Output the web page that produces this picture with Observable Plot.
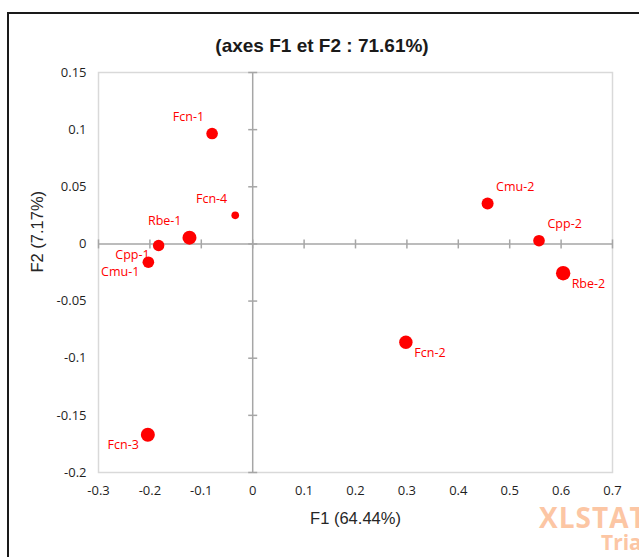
<!DOCTYPE html>
<html>
<head>
<meta charset="utf-8">
<script src="https://cdn.jsdelivr.net/npm/d3@7"></script>
<script src="https://cdn.jsdelivr.net/npm/@observablehq/plot@0.6"></script>
<style>
  html, body { margin: 0; padding: 0; background: #fff; overflow: hidden; }
  #wrap { position: relative; width: 639px; height: 557px; overflow: hidden; }
  #border { position: absolute; left: 7px; top: 12px; width: 680px; height: 620px; border: 2.5px solid #1a1a1a; box-sizing: border-box; pointer-events: none; }
  .wm { position: absolute; font-family: "Open Sans", sans-serif; font-weight: 700; color: #fcc6a4; white-space: nowrap; line-height: 1; }
</style>
</head>
<body>
<div id="wrap">
  <div id="chart"></div>
  <div id="border"></div>
  <div class="wm" style="left:539px; top:503px; font-size:28px; letter-spacing:1px;">XLSTAT</div>
  <div class="wm" style="left:601px; top:532px; font-size:21px;">Trial</div>
</div>
<script>
// Observations (names), coordinates on F1 and F2, relative point weight
const names  = ["Fcn-1", "Fcn-2", "Fcn-3", "Fcn-4", "Rbe-1", "Rbe-2", "Cpp-1", "Cpp-2", "Cmu-1", "Cmu-2"];
const f1     = [-0.079, 0.298, -0.204, -0.034, -0.123, 0.604, -0.183, 0.557, -0.203, 0.457];
const f2     = [0.0966, -0.086, -0.167, 0.025, 0.0055, -0.0256, -0.0013, 0.0028, -0.016, 0.0353];
const weight = [0.60, 0.80, 0.87, 0.26, 0.87, 0.92, 0.58, 0.60, 0.60, 0.64];
const labelSide = ["nw", "se", "sw", "nw", "nw", "se", "sw", "ne", "sw", "ne"];

const xTicks = [-0.3, -0.2, -0.1, 0, 0.1, 0.2, 0.3, 0.4, 0.5, 0.6, 0.7];
const yTicks = [-0.2, -0.15, -0.1, -0.05, 0, 0.05, 0.1, 0.15];

const titleText = "(axes F1 et F2 : 71.61%)";
const xTitle = "F1 (64.44%)";
const yTitle = "F2 (7.17%)";

const data = names.map((n, i) => ({name: n, x: f1[i], y: f2[i], w: weight[i], side: labelSide[i]}));

const hline = {draw(ctx, size) { const r = Math.sqrt(size / Math.PI); ctx.moveTo(-r, 0); ctx.lineTo(r, 0); }};
const vline = {draw(ctx, size) { const r = Math.sqrt(size / Math.PI); ctx.moveTo(0, -r); ctx.lineTo(0, r); }};

const red = "#ff0000";
const axisGray = "#a6a6a6";
const labelFont = "'Open Sans', sans-serif";
const titleFont = "'Liberation Sans', Arial, sans-serif";
const sides = {
  nw: {textAnchor: "end",   dx: -8,  dy: -16.5},
  sw: {textAnchor: "end",   dx: -9,  dy: 10},
  ne: {textAnchor: "start", dx: 8.5, dy: -17},
  se: {textAnchor: "start", dx: 8.5, dy: 10.5}
};

const chart = Plot.plot({
  width: 639,
  height: 557,
  marginLeft: 98,
  marginRight: 27,
  marginTop: 72,
  marginBottom: 85,
  style: {fontFamily: labelFont, fontSize: "13px", color: "#1f1f1f", background: "transparent", overflow: "visible"},
  x: {domain: [-0.3, 0.7], ticks: xTicks, tickFormat: d => String(d), tickSize: 0, tickPadding: 13, label: null},
  y: {domain: [-0.2, 0.15], ticks: yTicks, tickFormat: d => String(d), tickSize: 0, tickPadding: 12, label: null},
  r: {type: "sqrt", domain: [0, 1], range: [0, 7.5]},
  marks: [
    Plot.frame({stroke: "#d9d9d9", strokeWidth: 1.5}),
    Plot.ruleX([0], {stroke: axisGray, strokeWidth: 1.5}),
    Plot.ruleY([0], {stroke: axisGray, strokeWidth: 1.5}),
    Plot.dot(yTicks, {x: () => 0, y: d => d, symbol: hline, r: 4.5, fill: "none", stroke: axisGray, strokeWidth: 1.5}),
    Plot.dot(xTicks, {x: d => d, y: () => 0, symbol: vline, r: 4.5, fill: "none", stroke: axisGray, strokeWidth: 1.5}),
    Plot.dot(data, {x: "x", y: "y", r: "w", fill: red, stroke: "none"}),
    ...Object.entries(sides).map(([k, o]) =>
      Plot.text(data.filter(d => d.side === k), {x: "x", y: "y", text: "name", fill: red, fontSize: 12.5, fontFamily: labelFont, ...o})
    ),
    Plot.text([titleText], {frameAnchor: "top", lineAnchor: "middle", dx: -33.5, dy: -27, fontSize: 19, fontWeight: "bold", fontFamily: titleFont, fill: "#1a1a1a"}),
    Plot.text([xTitle], {frameAnchor: "bottom", lineAnchor: "middle", dy: 46, fontSize: 16.5, fontFamily: titleFont, fill: "#262626"}),
    Plot.text([yTitle], {frameAnchor: "left", lineAnchor: "middle", dx: -61, rotate: -90, fontSize: 16.5, fontFamily: titleFont, fill: "#262626"})
  ]
});
document.getElementById("chart").appendChild(chart);
</script>
</body>
</html>
